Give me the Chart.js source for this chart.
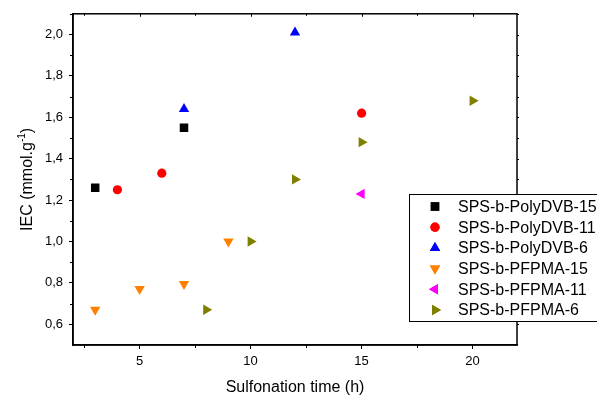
<!DOCTYPE html>
<html>
<head>
<meta charset="utf-8">
<script src="https://cdn.jsdelivr.net/npm/chart.js@4"></script>
<style>
html,body{margin:0;padding:0;background:#fff;}
#c{display:block;}
</style>
</head>
<body>
<canvas id="c" width="597" height="396"></canvas>
<script>
// data
const seriesNames=["SPS-b-PolyDVB-15","SPS-b-PolyDVB-11","SPS-b-PolyDVB-6","SPS-b-PFPMA-15","SPS-b-PFPMA-11","SPS-b-PFPMA-6"];
const dvb15X=[3,7];          const dvb15Y=[1.26,1.55];
const dvb11X=[4,6,15];       const dvb11Y=[1.25,1.33,1.62];
const dvb6X=[7,12];          const dvb6Y=[1.64,2.01];
const pf15X=[3,5,7,9];       const pf15Y=[0.67,0.77,0.795,1.00];
const pf11X=[15];            const pf11Y=[1.23];
const pf6X=[8,10,12,15,20];  const pf6Y=[0.67,1.00,1.30,1.48,1.68];
const xTicks=[5,10,15,20];
const yTicks=[0.6,0.8,1.0,1.2,1.4,1.6,1.8,2.0];
const xTitle="Sulfonation time (h)";
const yTitle="IEC (mmol.g";
const ySup="-1";

const colors=["#000000","#ff0000","#0000ff","#ff8000","#ff00ff","#808000"];
const styles=["rect","circle","triangle","triangle","triangle","triangle"];
const rots=[0,0,0,180,-90,90];
const radii=[6,4.6,6,6,6,6];
const xs=[dvb15X,dvb11X,dvb6X,pf15X,pf11X,pf6X];
const ys=[dvb15Y,dvb11Y,dvb6Y,pf15Y,pf11Y,pf6Y];

const FONT="Liberation Sans, Arial, sans-serif";

const datasets=seriesNames.map((n,i)=>({
  label:n,
  data:xs[i].map((x,j)=>({x:x,y:ys[i][j]})),
  pointStyle:styles[i],rotation:rots[i],radius:radii[i],
  backgroundColor:colors[i],borderColor:colors[i],borderWidth:0,showLine:false
}));

const extras={
  id:"extras",
  afterDraw(chart){
    const c=chart.ctx,a=chart.chartArea,sx=chart.scales.x,sy=chart.scales.y;
    c.save();
    c.strokeStyle="#000";c.lineWidth=1.5;
    c.strokeRect(a.left,a.top,a.right-a.left,a.bottom-a.top);
    c.lineWidth=1;
    // minor ticks
    for(let v=2.5;v<22;v+=2.5){
      const px=Math.round(sx.getPixelForValue(v))+0.5;
      const major=v%5===0;
      c.beginPath();
      if(!major){c.moveTo(px,a.bottom);c.lineTo(px,a.bottom+3);}
      c.moveTo(px,a.top);c.lineTo(px,a.top+(major?3:2));
      c.stroke();
    }
    for(let k=6;k<=21;k++){
      const v=k/10;
      const py=Math.round(sy.getPixelForValue(v))+0.5;
      const major=k%2===0;
      c.beginPath();
      if(!major){c.moveTo(a.left,py);c.lineTo(a.left-3,py);}
      c.moveTo(a.right,py);c.lineTo(a.right+2,py);
      c.stroke();
    }
    // axis titles
    c.fillStyle="#000";
    c.font="16px "+FONT;
    c.textAlign="center";c.textBaseline="alphabetic";
    c.fillText(xTitle,(a.left+a.right)/2,392);
    c.save();
    c.translate(32,(a.top+a.bottom)/2);
    c.rotate(-Math.PI/2);
    const w1=c.measureText(yTitle).width;
    c.font="10px "+FONT;
    const w2=c.measureText(ySup).width;
    c.font="16px "+FONT;
    const w3=c.measureText(")").width;
    const tot=w1+w2+w3;
    c.textAlign="left";
    let x0=-tot/2;
    c.fillText(yTitle,x0,0);
    c.font="10px "+FONT;
    c.fillText(ySup,x0+w1,-7);
    c.font="16px "+FONT;
    c.fillText(")",x0+w1+w2,0);
    c.restore();
    // legend (opaque box over the frame)
    const lx=409,ly=194,lh=127;
    c.fillStyle="#fff";
    c.fillRect(lx,ly,260,lh+1);
    c.lineWidth=1;c.strokeStyle="#000";
    c.strokeRect(lx+0.5,ly+0.5,250,lh);
    c.font="16px "+FONT;c.textAlign="left";c.textBaseline="middle";
    seriesNames.forEach((n,i)=>{
      const yy=206.5+i*20.7;
      c.fillStyle=colors[i];
      Chart.helpers.drawPoint(c,{pointStyle:styles[i],rotation:rots[i],radius:radii[i],borderWidth:0},435,yy);
      c.fill();
      c.fillStyle="#000";
      c.fillText(n,458,yy+1);
    });
    c.restore();
  }
};

new Chart(document.getElementById("c"),{
  type:"scatter",
  data:{datasets:datasets},
  options:{
    responsive:false,animation:false,
    layout:{padding:{left:0,top:13,right:80,bottom:0}},
    plugins:{legend:{display:false},tooltip:{enabled:false}},
    events:[],
    scales:{
      x:{type:"linear",min:2,max:22,
        afterBuildTicks:s=>{s.ticks=xTicks.map(v=>({value:v}));},
        afterFit:s=>{s.height=51;},
        grid:{drawOnChartArea:false,drawTicks:true,tickLength:4,color:"#000",tickColor:"#000"},
        border:{display:true,color:"#000",width:1.5},
        ticks:{color:"#000",font:{family:FONT,size:13},padding:5,maxRotation:0,autoSkip:false}
      },
      y:{type:"linear",min:0.5,max:2.1,
        afterBuildTicks:s=>{s.ticks=yTicks.map(v=>({value:v}));},
        afterFit:s=>{s.width=73;},
        grid:{drawOnChartArea:false,drawTicks:true,tickLength:4,color:"#000",tickColor:"#000"},
        border:{display:true,color:"#000",width:1.5},
        ticks:{color:"#000",font:{family:FONT,size:13},padding:6,autoSkip:false,
          callback:v=>v.toFixed(1).replace(".",",")}
      }
    }
  },
  plugins:[extras]
});
</script>
</body>
</html>
